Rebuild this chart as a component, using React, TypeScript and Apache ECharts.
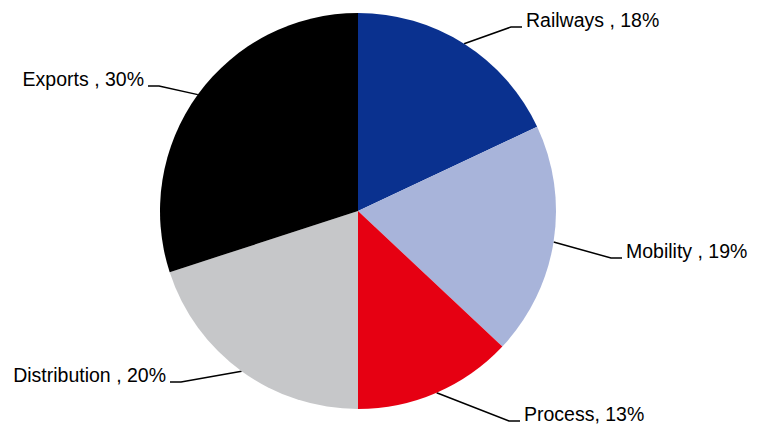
import React, { useEffect, useRef } from "react";
import * as echarts from "echarts";

const categories = ["Railways", "Mobility", "Process", "Distribution", "Exports"];
const shares = [18, 19, 13, 20, 30];
const labelTexts = [
  "Railways , 18%",
  "Mobility , 19%",
  "Process, 13%",
  "Distribution , 20%",
  "Exports , 30%",
];
const colors = ["#0a318f", "#a8b4da", "#e60012", "#c6c7c9", "#000000"];

// where each label's leader line ends (horizontal segment), and which side the text sits
const labelAnchors = [
  { x: 522, y: 27, align: "left" },
  { x: 622, y: 258, align: "left" },
  { x: 520, y: 421, align: "left" },
  { x: 170, y: 382, align: "right" },
  { x: 148, y: 86, align: "right" },
];

export default function App() {
  const ref = useRef<HTMLDivElement>(null);
  useEffect(() => {
    if (!ref.current) return;
    const chart = echarts.init(ref.current, null, { renderer: "svg" });
    const cx = 358;
    const cy = 211;
    const r = 198;
    chart.setOption({
      animation: false,
      backgroundColor: "#ffffff",
      series: [
        {
          type: "pie",
          center: [cx, cy],
          radius: r,
          startAngle: 90,
          clockwise: true,
          itemStyle: { borderWidth: 0 },
          emphasis: { disabled: true },
          label: {
            show: true,
            position: "outside",
            color: "#000",
            fontFamily: "'Liberation Sans', Arial, sans-serif",
            fontSize: 19.5,
            formatter: (p: any) => labelTexts[p.dataIndex],
          },
          labelLine: {
            show: true,
            length: 10,
            length2: 10,
            smooth: false,
            lineStyle: { color: "#000", width: 1.5 },
          },
          labelLayout: (params: any) => {
            const a = labelAnchors[params.dataIndex];
            const dir = a.align === "left" ? -1 : 1;
            let p0 = params.labelLinePoints && params.labelLinePoints[0];
            if (!p0) p0 = [cx, cy];
            return {
              x: a.x - dir * 4,
              y: a.y - 7,
              align: a.align,
              verticalAlign: "middle",
              labelLinePoints: [
                [p0[0], p0[1]],
                [a.x + dir * 11, a.y],
                [a.x, a.y],
              ],
            };
          },
          data: categories.map((name, i) => ({
            name,
            value: shares[i],
            itemStyle: { color: colors[i] },
          })),
        },
      ],
    });
    return () => chart.dispose();
  }, []);
  return (
    <div
      ref={ref}
      style={{ position: "fixed", left: 0, top: 0, width: 762, height: 428 }}
    />
  );
}
